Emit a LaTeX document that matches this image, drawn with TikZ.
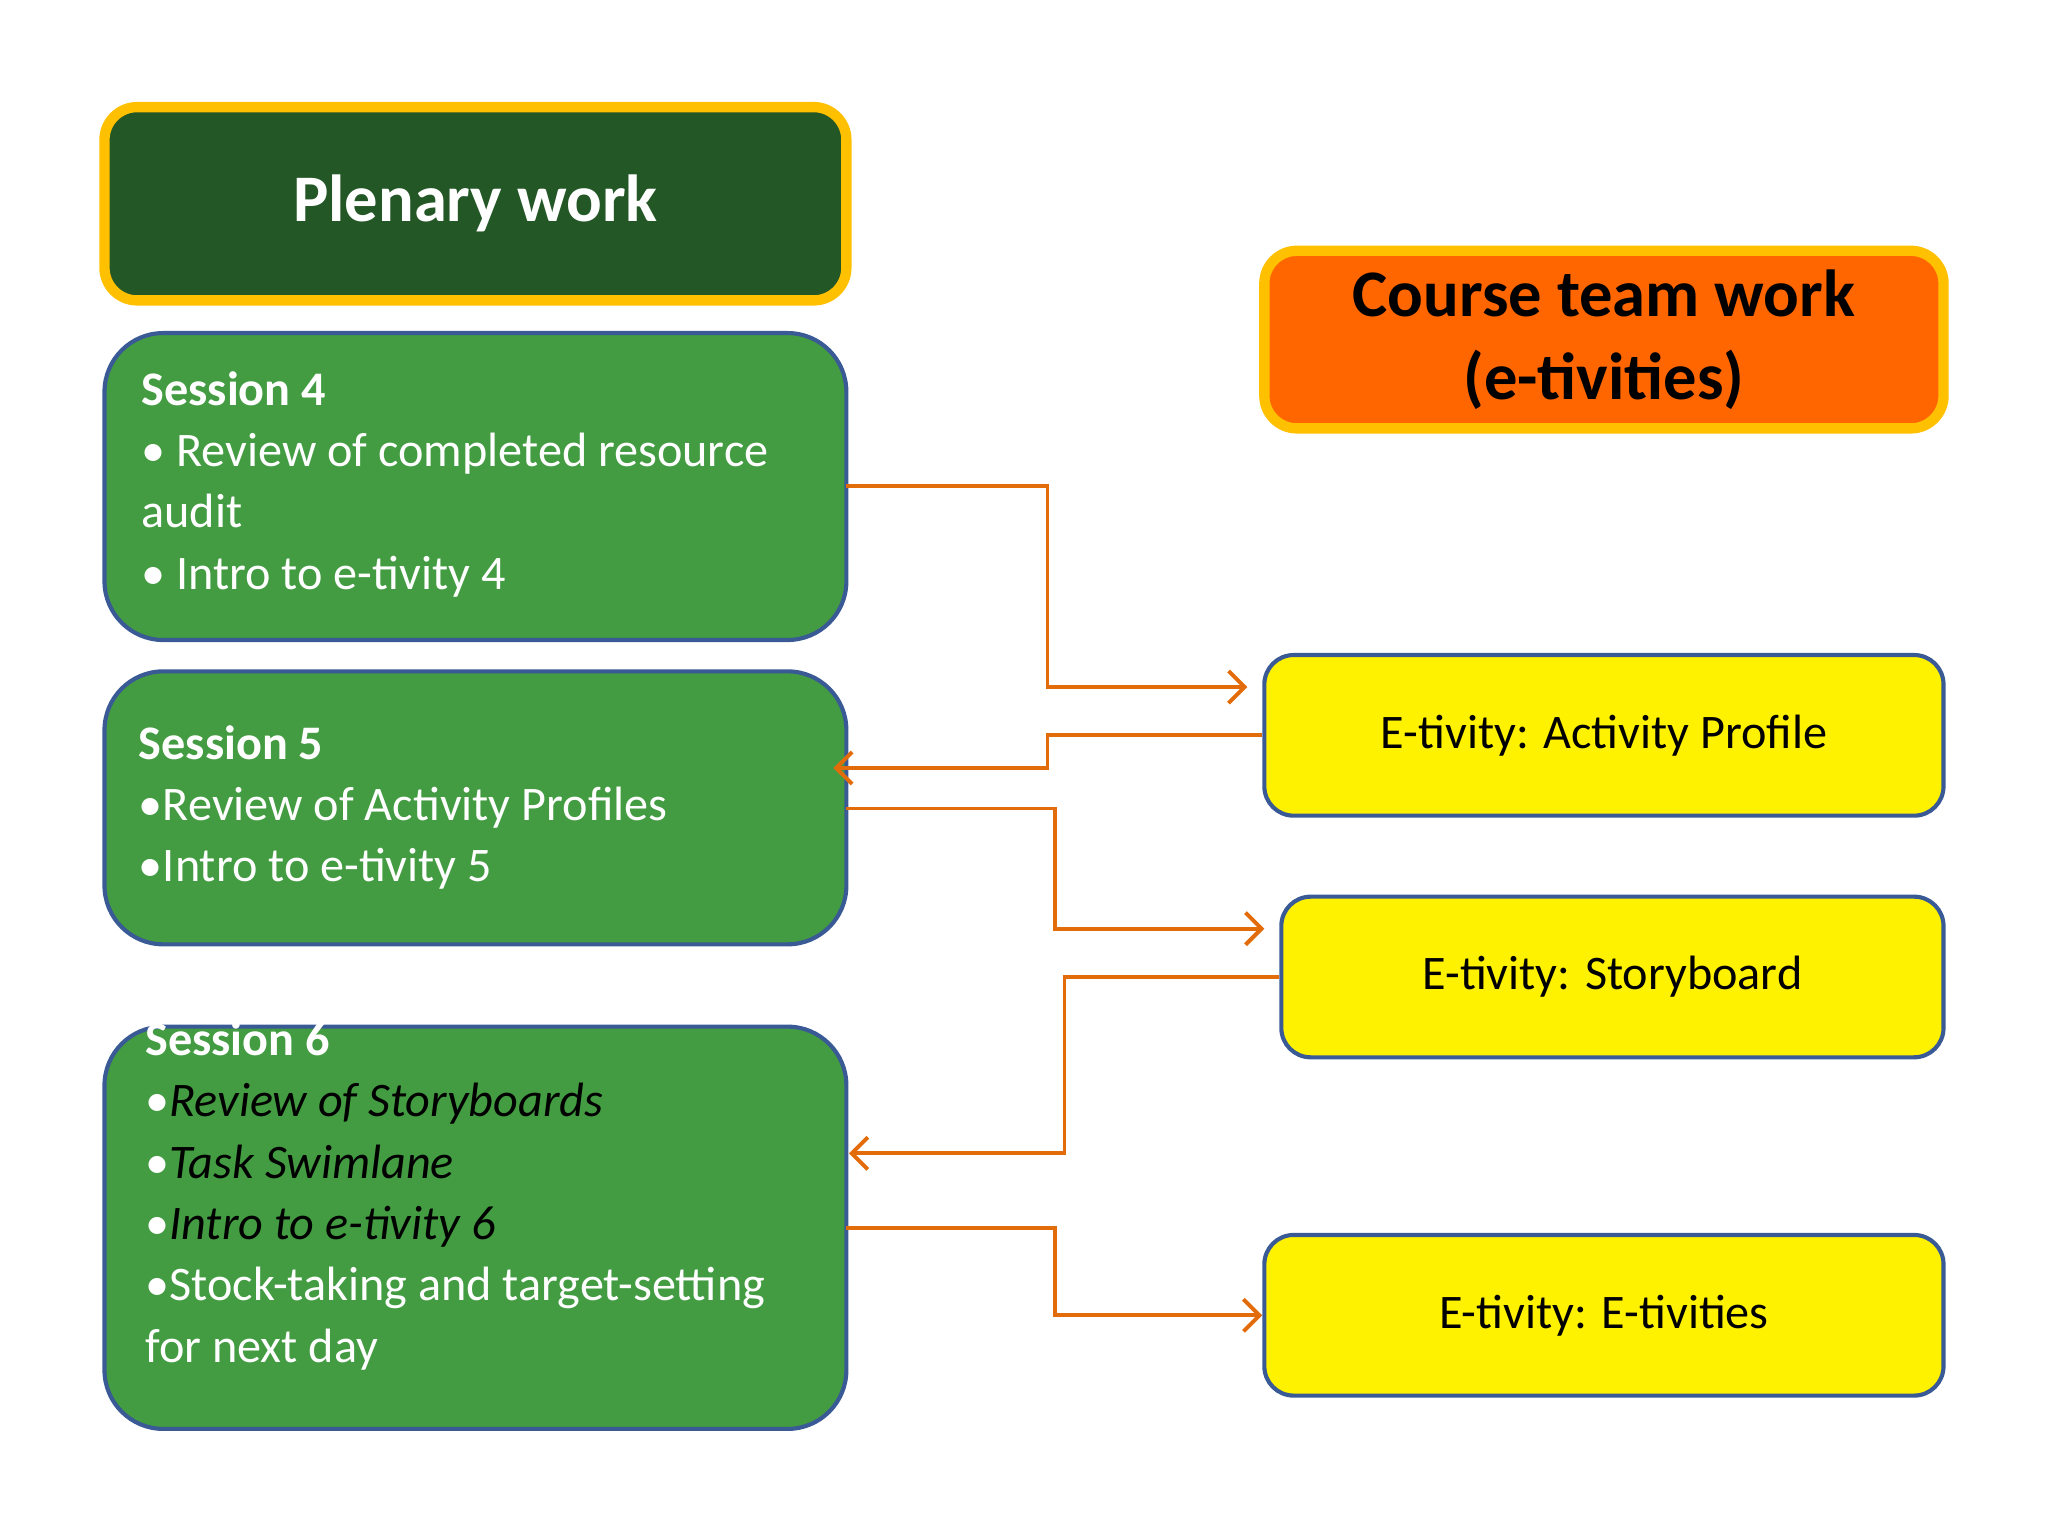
\documentclass[tikz,border=0pt]{standalone}
\usepackage{fontspec}
\setmainfont{Carlito}
\usetikzlibrary{arrows.meta}
\definecolor{dgreen}{HTML}{245726}
\definecolor{mgreen}{HTML}{439C42}
\definecolor{gold}{HTML}{FFC000}
\definecolor{org}{HTML}{FF6600}
\definecolor{bord}{HTML}{3A5A96}
\definecolor{line}{HTML}{E36C0A}
\tikzset{
 title/.style={draw=gold,line width=4.5pt,rounded corners=0.5cm},
 sess/.style={draw=bord,line width=1.8pt,fill=mgreen,rounded corners=0.9cm},
 act/.style={draw=bord,line width=1.8pt,fill=yellow,rounded corners=0.45cm},
 body/.style={text=white,align=left,anchor=north west,inner sep=0pt,font=\fontsize{21}{26.7}\selectfont},
 conn/.style={draw=line,line width=1.7pt,-{Straight Barb[length=7pt,width=14pt,line width=1.7pt]}}
}
\begin{document}
\begin{tikzpicture}[x=0.02cm,y=-0.02cm]
\useasboundingbox (0,0) rectangle (1568,1176);
\node[title,fill=dgreen,minimum width=568*0.02cm,minimum height=148*0.02cm,text=white,font=\fontsize{29}{34}\selectfont\bfseries] (plen) at (364,156) {Plenary work};
\node[title,fill=org,minimum width=520*0.02cm,minimum height=136*0.02cm,align=center,font=\fontsize{29}{36}\selectfont\bfseries] (course) at (1228,260) {Course team work\\(e-tivities)};
\path[sess] (80,255) rectangle (648,490);
\coordinate (s4) at (648,372);
\path[sess] (80,514) rectangle (648,723);
\coordinate (s5in) at (638,588);
\coordinate (s5) at (648,619);
\path[sess] (80,786) rectangle (648,1094);
\coordinate (s6in) at (650,883);
\coordinate (s6) at (648,940);
\node[body] (t4) at (108,284) {\textbf{Session 4}\\ • Review of completed resource\\audit\\ • Intro to e-tivity 4};
\node[body] (t5) at (106,555) {\textbf{Session 5}\\•Review of Activity Profiles\\•Intro to e-tivity 5};
\node[body] (t6) at (111,782) {\textbf{Session 6}\\•\textit{\color{black}Review of Storyboards}\\•\textit{\color{black}Task Swimlane}\\•\textit{\color{black}Intro to e-tivity 6}\\•Stock-taking and target-setting\\for next day};
\node[act,minimum width=520*0.02cm,minimum height=123*0.02cm,font=\fontsize{21}{26}\selectfont] (a1) at (1228,563) {E-tivity: Activity Profile};
\node[act,minimum width=507*0.02cm,minimum height=123*0.02cm,font=\fontsize{21}{26}\selectfont] (a2) at (1234.5,748) {E-tivity: Storyboard};
\node[act,minimum width=520*0.02cm,minimum height=123*0.02cm,font=\fontsize{21}{26}\selectfont] (a3) at (1228,1007) {E-tivity: E-tivities};
\coordinate (a1in) at (955,526);
\coordinate (a2in) at (968,711);
\draw[conn] (s4) -- (802,372) -- (802,526) -- (a1in);
\draw[conn] (a1.west) -- (802,563) -- (802,588) -- (s5in);
\draw[conn] (s5) -- (808,619) -- (808,711) -- (a2in);
\draw[conn] (a2.west) -- (815,748) -- (815,883) -- (s6in);
\draw[conn] (s6) -- (808,940) -- (808,1007) -- (a3.west);
\end{tikzpicture}
\end{document}
